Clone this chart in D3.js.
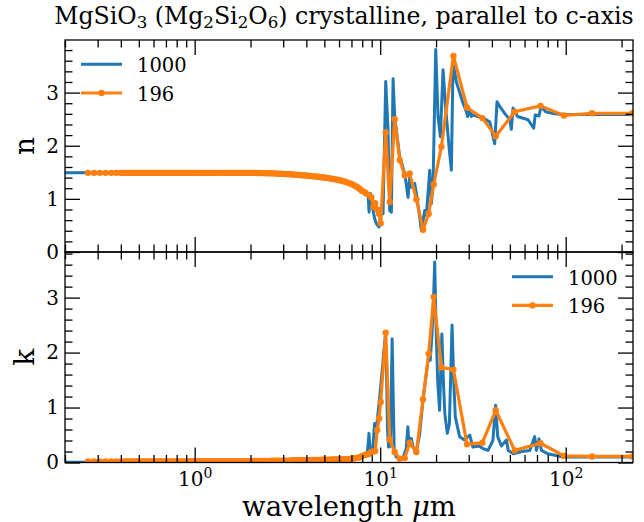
<!DOCTYPE html>
<html><head><meta charset="utf-8">
<script src="https://cdn.jsdelivr.net/npm/d3@7"></script>
<style>
body{margin:0;background:#fff}
svg{display:block}
text{font-family:"DejaVu Serif",serif;fill:#000}
</style>
</head><body>
<svg id="c" width="644" height="522"></svg>
<script>
// ---------- data ----------
const seriesNames = ["1000", "196"];
const seriesColors = ["#1f77b4", "#ff7f0e"];

// "1000" series, refractive index n
const blueNWl = [0.2,0.5,1,2,3,4,5,6,6.8,7.5,8.0,8.3,8.6,8.71,8.85,9.15,9.35,9.54,9.86,10.15,
  10.36,10.71,11.02,11.25,11.49,11.73,11.97,12.74,13.56,14.13,14.42,14.72,15.35,15.67,16.33,16.67,17.38,17.74,18.49,18.87,
  19.27,19.92,20.5,21.1,21.82,22.5,23.5,24.19,24.7,25.74,27.96,29.14,29.6,30.38,31.0,31.65,33.0,35.84,38.93,41.42,
  42.64,44.08,46.9,49.9,50.9,52.0,55.0,62.7,67.2,68.5,71.8,73.6,78,87,100,150,230];
const blueN = [1.49,1.495,1.495,1.49,1.475,1.45,1.42,1.37,1.32,1.24,1.16,1.08,1.10,0.75,1.10,0.78,0.62,0.53,0.47,0.78,
  0.72,3.21,2.30,0.78,0.75,3.26,2.55,1.79,1.48,1.03,1.41,1.22,1.29,1.10,0.66,0.40,0.78,0.69,1.54,0.91,
  1.29,3.81,2.55,2.17,3.43,2.74,1.98,1.54,3.56,3.20,2.80,2.64,2.55,2.68,2.55,2.58,2.56,2.52,2.45,2.04,
  2.83,2.74,2.61,2.49,2.31,2.71,2.55,2.49,2.33,2.58,2.56,2.74,2.64,2.60,2.59,2.59,2.59];

// "1000" series, extinction k
const blueKWl = [0.2,0.5,1,2,3,4,5,6,7,8,8.5,8.7,8.85,9.1,9.33,9.5,9.7,9.9,10.2,10.45,
  10.65,10.8,10.95,11.1,11.35,11.6,11.75,11.9,12.2,12.74,13.3,13.8,14.1,14.3,14.7,15.0,15.4,15.7,16.3,17.0,
  17.7,18.3,18.6,19.0,19.4,19.67,20.0,20.4,20.9,21.5,21.9,22.3,23.0,23.6,24.4,24.9,25.4,26.8,28.5,30.4,
  31.6,34,36,38.1,40.5,41.9,43,45,47.9,49,52.2,58,64,68,69.5,71.8,74,80,96.7,150,230];
const blueK = [0.005,0.01,0.01,0.02,0.03,0.04,0.05,0.06,0.08,0.10,0.12,0.53,0.15,0.20,0.71,0.55,0.85,1.13,1.60,2.00,
  2.30,1.80,0.60,0.28,0.30,2.25,1.20,0.22,0.10,0.07,0.09,0.25,0.65,0.30,0.44,0.30,0.20,0.22,0.50,1.13,
  1.60,1.98,1.86,2.30,3.00,3.65,2.50,1.50,0.95,2.34,1.50,0.89,0.53,0.70,2.50,1.50,0.83,0.47,0.41,0.50,
  0.28,0.30,0.25,0.22,0.40,1.04,0.47,0.30,0.41,0.22,0.16,0.20,0.22,0.47,0.22,0.43,0.22,0.16,0.10,0.10,0.10];

// "196" series (markers)
const orangeWl = [
  0.266,0.287,0.308,0.331,0.355,0.378,0.398,0.412,0.425,0.438,
  0.45,0.46,0.47,0.48,0.49,0.50,0.51,0.52,0.535,0.55,
  0.565,0.58,0.595,0.61,0.625,0.64,0.655,0.67,0.69,0.71,
  0.73,0.75,0.77,0.79,0.81,0.83,0.85,0.87,0.89,0.91,
  0.93,0.96,0.99,1.02,1.05,1.08,1.11,1.14,1.17,1.2,
  1.23,1.26,1.29,1.32,1.36,1.4,1.44,1.48,1.52,1.56,
  1.6,1.64,1.68,1.72,1.76,1.8,1.85,1.9,1.95,2.0,
  2.05,2.1,2.15,2.2,2.26,2.32,2.38,2.44,2.5,2.56,
  2.62,2.69,2.76,2.83,2.9,2.97,3.04,3.12,3.2,3.28,
  3.36,3.44,3.52,3.61,3.7,3.79,3.88,3.98,4.08,4.18,
  4.28,4.39,4.5,4.61,4.72,4.84,4.96,5.08,5.2,5.33,
  5.46,5.6,5.74,5.88,6.02,6.17,6.32,6.48,6.64,6.8,
  6.97,7.14,7.32,7.5,7.7,7.85,
  8.0,8.3,8.6,8.96,9.2,9.4,9.64,9.86,10.06,10.71,
  11.25,11.97,12.74,13.56,14.42,15.67,17.02,18.26,19.43,21.38,
  24.81,29.38,35.56,41.95,53.1,73.1,97.9,138.6,228.8];
const orangeN = [
  1.49,1.49,1.49,1.49,1.49,1.49,1.49,1.49,1.49,1.49,
  1.49,1.49,1.49,1.49,1.49,1.49,1.49,1.49,1.49,1.49,
  1.49,1.49,1.49,1.49,1.49,1.49,1.49,1.49,1.49,1.49,
  1.49,1.49,1.49,1.49,1.49,1.49,1.49,1.49,1.49,1.49,
  1.49,1.49,1.49,1.49,1.49,1.49,1.49,1.49,1.49,1.49,
  1.49,1.49,1.49,1.49,1.49,1.49,1.49,1.49,1.49,1.49,
  1.49,1.49,1.49,1.49,1.49,1.49,1.49,1.49,1.49,1.49,
  1.49,1.489,1.488,1.487,1.486,1.485,1.484,1.483,1.482,1.481,
  1.48,1.478,1.476,1.474,1.472,1.470,1.468,1.466,1.464,1.462,
  1.46,1.457,1.454,1.451,1.448,1.445,1.442,1.439,1.436,1.432,
  1.428,1.424,1.42,1.416,1.412,1.407,1.402,1.397,1.392,1.386,
  1.38,1.374,1.367,1.36,1.352,1.343,1.333,1.322,1.31,1.297,
  1.282,1.265,1.245,1.222,1.195,1.17,
  1.15,1.12,1.08,1.03,0.85,0.92,0.80,0.72,0.54,2.25,
  0.94,2.50,1.73,1.44,1.48,0.99,0.42,0.72,1.27,1.98,
  3.69,2.72,2.52,2.18,2.64,2.75,2.57,2.61,2.61];
const orangeK = [
  0.02,0.02,0.02,0.02,0.02,0.02,0.02,0.02,0.02,0.02,
  0.02,0.02,0.02,0.02,0.02,0.02,0.02,0.02,0.02,0.02,
  0.02,0.02,0.02,0.02,0.02,0.02,0.02,0.02,0.02,0.02,
  0.02,0.02,0.02,0.02,0.02,0.02,0.02,0.02,0.02,0.02,
  0.025,0.025,0.025,0.025,0.025,0.025,0.025,0.025,0.025,0.025,
  0.025,0.025,0.025,0.025,0.025,0.025,0.025,0.025,0.025,0.025,
  0.025,0.025,0.025,0.025,0.025,0.025,0.025,0.025,0.025,0.025,
  0.03,0.03,0.03,0.03,0.03,0.03,0.03,0.03,0.03,0.03,
  0.035,0.035,0.035,0.035,0.035,0.035,0.035,0.035,0.035,0.035,
  0.04,0.04,0.04,0.04,0.04,0.04,0.04,0.04,0.04,0.04,
  0.045,0.045,0.045,0.045,0.045,0.05,0.05,0.05,0.05,0.05,
  0.055,0.055,0.055,0.055,0.055,0.06,0.06,0.06,0.06,0.06,
  0.07,0.075,0.08,0.085,0.09,0.10,
  0.12,0.14,0.15,0.19,0.20,0.21,0.59,0.80,1.10,2.36,
  0.42,0.19,0.07,0.08,0.36,0.19,1.15,1.98,3.01,1.73,
  1.69,0.33,0.36,0.95,0.22,0.35,0.12,0.11,0.11];

const yMajorTicks = [0, 1, 2, 3];
const xMajorTicks = [1, 10, 100];
const xTickExponents = ["0", "1", "2"];

// ---------- layout ----------
const svg = d3.select("#c");
const L = 65, R = 633;
const panels = [
  {top: 40, bottom: 252, ymax: 3.99, label: "n", wl: blueNWl, bv: blueN, ov: orangeN, legend: {x: 81, y: 64.3}},
  {top: 252, bottom: 462.5, ymax: 3.83, label: "k", wl: blueKWl, bv: blueK, ov: orangeK, legend: {x: 512, y: 276.7}}
];
const x = d3.scaleLog().domain([0.2, 230.5]).range([L, R]);
const xMinor = x.ticks().filter(v => xMajorTicks.indexOf(v) < 0);

const MAJ = 15, MIN = 7.5, TW = 1.3;

// fit a text's font size so that its rendered width matches the reference width
function fitWidth(sel, base, target) {
  const w = sel.node().getComputedTextLength();
  if (w > 0) {
    const k = target / w;
    sel.style("font-size", (base * k) + "px");
    sel.selectAll("tspan").each(function() {
      const fs = parseFloat(this.style.fontSize);
      if (fs) d3.select(this).style("font-size", (fs * k) + "px");
    });
    return k;
  }
  return 1;
}

panels.forEach((p, i) => {
  const y = d3.scaleLinear().domain([0, p.ymax]).range([p.bottom, p.top]);
  const yMinor = y.ticks(20).filter(v => yMajorTicks.indexOf(v) < 0);

  const clipId = "clip" + i;
  svg.append("clipPath").attr("id", clipId).append("rect")
    .attr("x", L).attr("y", p.top).attr("width", R - L).attr("height", p.bottom - p.top);

  const plot = svg.append("g").attr("clip-path", `url(#${clipId})`);
  const line = d3.line().x(d => x(d[0])).y(d => y(d[1]));

  const blueData = p.wl.map((w, j) => [w, p.bv[j]]);
  const orangeData = orangeWl.map((w, j) => [w, p.ov[j]]);

  plot.append("path").datum(blueData).attr("d", line)
    .attr("fill", "none").attr("stroke", seriesColors[0]).attr("stroke-width", 3)
    .attr("stroke-linejoin", "round");
  plot.append("path").datum(orangeData).attr("d", line)
    .attr("fill", "none").attr("stroke", seriesColors[1]).attr("stroke-width", 3.2)
    .attr("stroke-linejoin", "round");
  plot.selectAll("circle.m").data(orangeData).join("circle").attr("class", "m")
    .attr("cx", d => x(d[0])).attr("cy", d => y(d[1])).attr("r", 3.2)
    .attr("fill", seriesColors[1]);

  // axes (ticks inward on all four sides)
  const styleAxis = g => {
    g.select(".domain").remove();
    g.selectAll(".tick line").attr("stroke", "#000").attr("stroke-width", TW);
    g.selectAll(".tick text").style("font-family", "'DejaVu Serif', serif").style("font-size", "20px").attr("fill", "#000");
  };
  svg.append("g").attr("transform", `translate(${L},0)`)
    .call(d3.axisLeft(y).tickValues(yMajorTicks).tickSizeInner(-MAJ).tickSizeOuter(0).tickPadding(6).tickFormat(d3.format("d")))
    .call(styleAxis);
  svg.append("g").attr("transform", `translate(${L},0)`)
    .call(d3.axisLeft(y).tickValues(yMinor).tickSizeInner(-MIN).tickSizeOuter(0).tickFormat(""))
    .call(styleAxis);
  svg.append("g").attr("transform", `translate(${R},0)`)
    .call(d3.axisRight(y).tickValues(yMajorTicks).tickSizeInner(-MAJ).tickSizeOuter(0).tickFormat(""))
    .call(styleAxis);
  svg.append("g").attr("transform", `translate(${R},0)`)
    .call(d3.axisRight(y).tickValues(yMinor).tickSizeInner(-MIN).tickSizeOuter(0).tickFormat(""))
    .call(styleAxis);
  svg.append("g").attr("transform", `translate(0,${p.top})`)
    .call(d3.axisTop(x).tickValues(xMajorTicks).tickSizeInner(-MAJ).tickSizeOuter(0).tickFormat(""))
    .call(styleAxis);
  svg.append("g").attr("transform", `translate(0,${p.top})`)
    .call(d3.axisTop(x).tickValues(xMinor).tickSizeInner(-MIN).tickSizeOuter(0).tickFormat(""))
    .call(styleAxis);
  const bx = svg.append("g").attr("transform", `translate(0,${p.bottom})`)
    .call(d3.axisBottom(x).tickValues(xMajorTicks).tickSizeInner(-MAJ).tickSizeOuter(0).tickPadding(10).tickFormat(() => ""))
    .call(styleAxis);
  svg.append("g").attr("transform", `translate(0,${p.bottom})`)
    .call(d3.axisBottom(x).tickValues(xMinor).tickSizeInner(-MIN).tickSizeOuter(0).tickFormat(""))
    .call(styleAxis);

  if (i === 1) {
    bx.selectAll(".tick text").each(function(d, j) {
      const t = d3.select(this).attr("y", 23.4).attr("dy", null).attr("text-anchor", "middle");
      t.append("tspan").text("10");
      t.append("tspan").attr("dy", -7.7).style("font-size", "14px").text(xTickExponents[j]);
    });
  }

  // frame
  svg.append("rect").attr("x", L).attr("y", p.top).attr("width", R - L).attr("height", p.bottom - p.top)
    .attr("fill", "none").attr("stroke", "#000").attr("stroke-width", TW);

  // y label
  svg.append("text").attr("transform", `translate(34,${(p.top + p.bottom) / 2}) rotate(-90)`)
    .attr("text-anchor", "middle").style("font-size", "28px").text(p.label);

  // legend
  const lg = svg.append("g").attr("transform", `translate(${p.legend.x},${p.legend.y})`);
  seriesNames.forEach((name, j) => {
    const yy = j * 28.7;
    lg.append("line").attr("x1", 0).attr("x2", 41).attr("y1", yy).attr("y2", yy)
      .attr("stroke", seriesColors[j]).attr("stroke-width", j ? 3.2 : 3);
    if (j === 1) lg.append("circle").attr("cx", 20.5).attr("cy", yy).attr("r", 3.2).attr("fill", seriesColors[j]);
    lg.append("text").attr("x", 56).attr("y", yy + 7.8).style("font-size", "19.5px").text(name);
  });
});

// x label
const xl = svg.append("text").attr("x", (L + R) / 2).attr("y", 516).attr("text-anchor", "middle").style("font-size", "27px");
xl.append("tspan").text("wavelength ");
xl.append("tspan").style("font-style", "italic").text("\u03bc");
xl.append("tspan").text("m");
fitWidth(xl, 27, 214);

// title with subscripts
const title = svg.append("text").attr("x", 344).attr("y", 24).attr("text-anchor", "middle").style("font-size", "22px");
const parts = [["MgSiO", 0], ["3", 1], [" (Mg", 0], ["2", 1], ["Si", 0], ["2", 1], ["O", 0], ["6", 1], [") crystalline, parallel to c-axis", 0]];
let prevSub = false;
parts.forEach(([s, sub]) => {
  const ts = title.append("tspan").text(s);
  if (sub) { ts.attr("dy", 4.3).style("font-size", "15.5px"); prevSub = true; }
  else if (prevSub) { ts.attr("dy", -4.3); prevSub = false; }
});
fitWidth(title, 22, 580);
</script>
</body></html>
